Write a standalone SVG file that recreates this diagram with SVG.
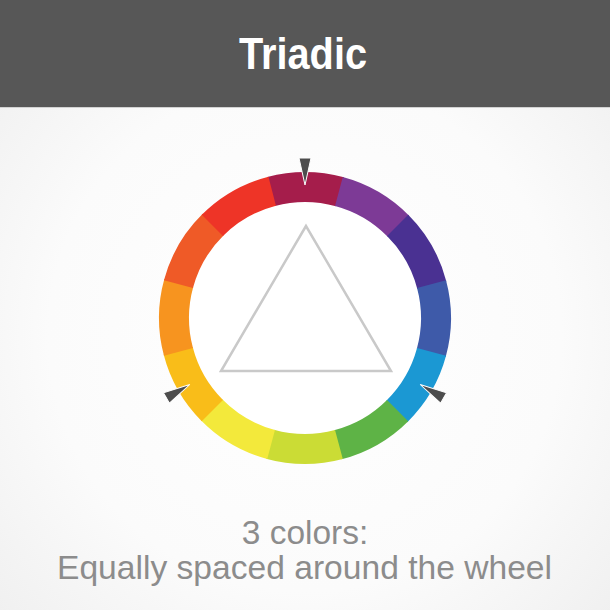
<svg xmlns="http://www.w3.org/2000/svg" xmlns:xlink="http://www.w3.org/1999/xlink" width="610" height="610" viewBox="0 0 610 610">
  <style>
    .title { font-family: "Liberation Sans", Arial, sans-serif; font-weight: bold; font-size: 45px; fill: #ffffff; }
    .sub { font-family: "Liberation Sans", Arial, sans-serif; font-size: 33.5px; fill: #8c8c8c; }
    .tri { fill: #ffffff; stroke: #c9c9c9; stroke-width: 2.5; stroke-linejoin: miter; }
    .ptr { fill: #4d4d4d; stroke: #ffffff; stroke-width: 1; stroke-linejoin: miter; }
  </style>
  <defs>
    <radialGradient id="bg" cx="50%" cy="55%" r="70%">
      <stop offset="0" stop-color="#ffffff"/>
      <stop offset="0.6" stop-color="#fbfbfb"/>
      <stop offset="1" stop-color="#efefef"/>
    </radialGradient>
    <path id="seg" d="M267.21,176.97 A146,146 0 0 1 344.02,177.31 L336.00,206.22 A116,116 0 0 0 274.98,205.95 Z"/>
    <polygon id="pointer" points="299,158 311,158 305,185"/>
  </defs>

  <rect id="background" x="0" y="0" width="610" height="610" fill="url(#bg)"/>

  <g id="header">
    <rect x="0" y="0" width="610" height="107" fill="#575757"/>
    <rect x="0" y="107" width="610" height="1" fill="#d2d2d2"/>
    <text class="title" x="303" y="69" text-anchor="middle" textLength="128" lengthAdjust="spacingAndGlyphs">Triadic</text>
  </g>

  <g id="wheel">
    <circle cx="305" cy="318" r="116" fill="#ffffff"/>
    <use xlink:href="#seg" fill="#a51d4b"/>
    <use xlink:href="#seg" fill="#7d3a96" transform="rotate(30 305 318)"/>
    <use xlink:href="#seg" fill="#4a3192" transform="rotate(60 305 318)"/>
    <use xlink:href="#seg" fill="#3e5aa9" transform="rotate(90 305 318)"/>
    <use xlink:href="#seg" fill="#1b98d3" transform="rotate(120 305 318)"/>
    <use xlink:href="#seg" fill="#5eb346" transform="rotate(150 305 318)"/>
    <use xlink:href="#seg" fill="#cbdc35" transform="rotate(180 305 318)"/>
    <use xlink:href="#seg" fill="#f3e93b" transform="rotate(210 305 318)"/>
    <use xlink:href="#seg" fill="#f9bd19" transform="rotate(240 305 318)"/>
    <use xlink:href="#seg" fill="#f7941f" transform="rotate(270 305 318)"/>
    <use xlink:href="#seg" fill="#ef5a27" transform="rotate(300 305 318)"/>
    <use xlink:href="#seg" fill="#ee3427" transform="rotate(330 305 318)"/>
  </g>

  <g id="triangle">
    <polygon class="tri" points="306,226 221,371 391,371"/>
  </g>

  <g id="pointers">
    <use xlink:href="#pointer" class="ptr"/>
    <use xlink:href="#pointer" class="ptr" transform="rotate(120 305 318)"/>
    <use xlink:href="#pointer" class="ptr" transform="rotate(240 305 318)"/>
  </g>

  <g id="caption">
    <text class="sub" x="305" y="544" text-anchor="middle">3 colors:</text>
    <text class="sub" x="304.5" y="579" text-anchor="middle" textLength="495" lengthAdjust="spacingAndGlyphs">Equally spaced around the wheel</text>
  </g>
</svg>
